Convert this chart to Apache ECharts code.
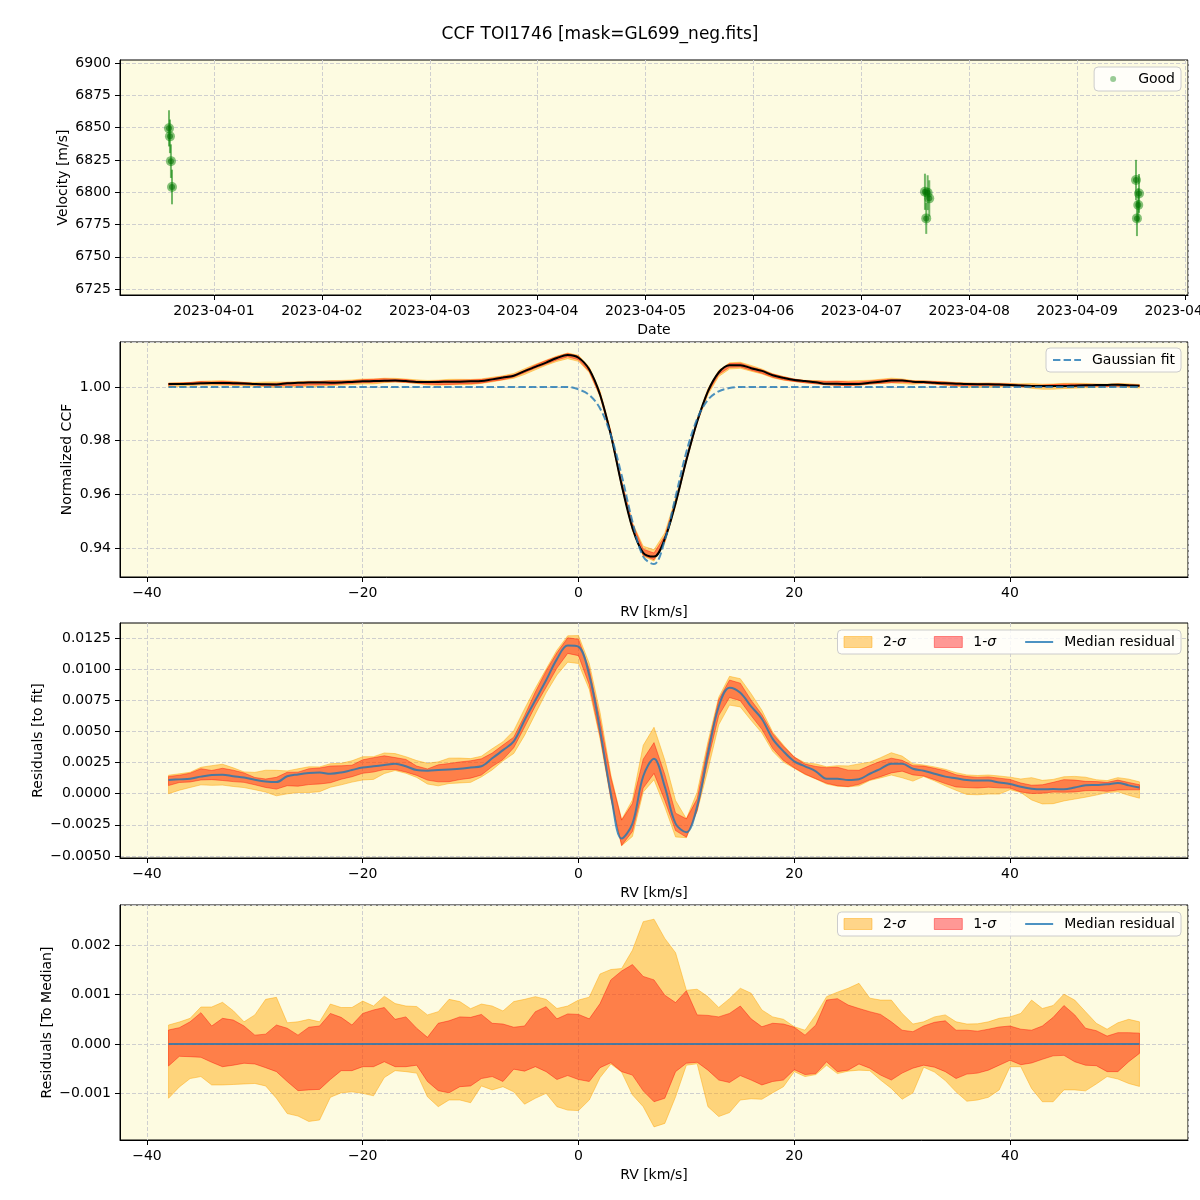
<!DOCTYPE html>
<html>
<head>
<meta charset="utf-8">
<title>CCF TOI1746</title>
<script src="https://cdn.jsdelivr.net/npm/echarts@6.0.0/dist/echarts.min.js"></script>
<style>
  html, body { margin: 0; padding: 0; background: #fff; }
  #chart { width: 1200px; height: 1200px; }
</style>
</head>
<body>
<div id="chart"></div>
<script>
// ---- top panel: RV epochs (days since 2023-04-01 00:00 UTC), velocity [m/s], error [m/s]
const obsDay = [-0.417, -0.408, -0.399, -0.389, 6.589, 6.614, 6.629, 6.601, 8.545, 8.573, 8.566, 8.554]
const obsVel = [6849.4, 6843.2, 6824.0, 6804.0, 6800.3, 6799.6, 6795.2, 6779.7, 6809.4, 6799.0, 6790.0, 6779.7]
const obsErr = [14, 13, 13, 13.4, 14, 13.5, 14, 12, 15.6, 15, 13, 13.7]
const velTicks = [6725, 6750, 6775, 6800, 6825, 6850, 6875, 6900]

// ---- RV grid [km/s]
const rv = [
  -38, -37, -36, -35, -34, -33, -32, -31, -30, -29,
  -28, -27, -26, -25, -24, -23, -22, -21, -20, -19,
  -18, -17, -16, -15, -14, -13, -12, -11, -10, -9,
  -8, -7, -6, -5, -4, -3, -2, -1, 0, 1,
  2, 3, 4, 5, 6, 7, 8, 9, 10, 11,
  12, 13, 14, 15, 16, 17, 18, 19, 20, 21,
  22, 23, 24, 25, 26, 27, 28, 29, 30, 31,
  32, 33, 34, 35, 36, 37, 38, 39, 40, 41,
  42, 43, 44, 45, 46, 47, 48, 49, 50, 51,
  52
]

// gaussian fit of the CCF
const gaussFit = [
  1, 1, 1, 1, 1, 1, 1, 1, 1, 1,
  1, 1, 1, 1, 1, 1, 1, 1, 1, 1,
  1, 1, 1, 1, 1, 1, 1, 1, 1, 1,
  1, 1, 1, 1, 1, 1, 1, 1, 0.9991, 0.9970,
  0.9920, 0.9821, 0.9671, 0.9499, 0.9368, 0.9340, 0.9429, 0.9591, 0.9758, 0.9881,
  0.9952, 0.9984, 0.9996, 1, 1, 1, 1, 1, 1, 1,
  1, 1, 1, 1, 1, 1, 1, 1, 1, 1,
  1, 1, 1, 1, 1, 1, 1, 1, 1, 1,
  1, 1, 1, 1, 1, 1, 1, 1, 1, 1,
  1
]

// median residual (CCF - fit)
const medRes = [
  0.0011, 0.00115, 0.0012, 0.00137, 0.0015, 0.00152, 0.0014, 0.0013, 0.00112, 0.00098,
  0.00093, 0.0014, 0.00155, 0.00166, 0.0017, 0.0016, 0.0017, 0.0019, 0.0021, 0.0022,
  0.0023, 0.0024, 0.0022, 0.0019, 0.00185, 0.0019, 0.00195, 0.0020, 0.0021, 0.0022,
  0.00284, 0.0035, 0.0042, 0.0059, 0.0075, 0.0091, 0.0108, 0.0119, 0.0118, 0.0095,
  0.0051, 0.0000, -0.0036, -0.0024, 0.0014, 0.0028, 0.00056, -0.0024, -0.0031, -0.0010,
  0.0032, 0.0070, 0.0085, 0.0081, 0.0070, 0.0060, 0.0044, 0.0034, 0.0026, 0.0022,
  0.0018, 0.0012, 0.0012, 0.0011, 0.00116, 0.0016, 0.0020, 0.0024, 0.0024, 0.0020,
  0.00185, 0.0016, 0.00137, 0.00124, 0.0011, 0.00105, 0.00105, 0.0009, 0.00078, 0.00056,
  0.0004, 0.00035, 0.00037, 0.00035, 0.0005, 0.00067, 0.0007, 0.00075, 0.00086, 0.00067,
  0.0005
]

// spread of the individual CCFs around the median, in units of 1e-3
const p2hi = [
  0.385, 0.446, 0.52, 0.75, 0.75, 0.845, 0.675, 0.45, 0.59, 0.905,
  0.946, 0.43, 0.45, 0.50, 0.45, 0.81, 0.74, 0.74, 0.87, 0.77,
  0.97, 0.82, 0.77, 0.76, 0.59, 0.655, 0.905, 0.86, 0.716, 0.81,
  0.77, 0.67, 0.86, 0.905, 0.96, 0.905, 0.72, 0.77, 0.89, 0.95,
  1.42, 1.51, 1.53, 1.90, 2.48, 2.53, 2.14, 1.85, 1.09, 1.11,
  0.96, 0.74, 0.92, 1.13, 1.03, 0.69, 0.55, 0.50, 0.35, 0.28,
  0.59, 0.96, 1.05, 1.13, 1.23, 0.93, 0.89, 0.89, 0.62, 0.405,
  0.45, 0.55, 0.59, 0.45, 0.405, 0.41, 0.45, 0.52, 0.55, 0.62,
  0.89, 0.72, 0.78, 1.01, 0.89, 0.655, 0.42, 0.30, 0.43, 0.50,
  0.45
]
const p1hi = [
  0.284, 0.331, 0.45, 0.635, 0.365, 0.52, 0.486, 0.365, 0.18, 0.20,
  0.385, 0.32, 0.18, 0.34, 0.365, 0.62, 0.54, 0.385, 0.62, 0.69,
  0.74, 0.50, 0.55, 0.32, 0.135, 0.42, 0.47, 0.55, 0.54, 0.60,
  0.42, 0.405, 0.34, 0.365, 0.655, 0.757, 0.51, 0.61, 0.60, 0.51,
  0.82, 1.30, 1.48, 1.61, 1.37, 1.30, 0.99, 0.84, 1.08, 0.59,
  0.58, 0.55, 0.62, 0.77, 0.51, 0.35, 0.42, 0.405, 0.34, 0.18,
  0.385, 0.89, 0.92, 0.79, 0.72, 0.655, 0.60, 0.45, 0.28, 0.25,
  0.365, 0.44, 0.47, 0.28, 0.28, 0.26, 0.30, 0.345, 0.365, 0.30,
  0.28, 0.365, 0.54, 0.78, 0.59, 0.32, 0.27, 0.16, 0.23, 0.23,
  0.22
]
const p1lo = [
  -0.446, -0.25, -0.257, -0.27, -0.37, -0.46, -0.43, -0.39, -0.405, -0.48,
  -0.56, -0.76, -0.946, -0.93, -0.92, -0.72, -0.54, -0.54, -0.46, -0.46,
  -0.36, -0.46, -0.46, -0.43, -0.76, -0.946, -0.99, -0.865, -0.85, -0.70,
  -0.66, -0.76, -0.51, -0.55, -0.46, -0.56, -0.72, -0.64, -0.72, -0.76,
  -0.48, -0.38, -0.56, -0.63, -0.95, -1.17, -1.10, -0.56, -0.39, -0.37,
  -0.53, -0.73, -0.78, -0.64, -0.73, -0.83, -0.76, -0.73, -0.52, -0.62,
  -0.60, -0.36, -0.56, -0.53, -0.405, -0.49, -0.63, -0.73, -0.59, -0.49,
  -0.43, -0.47, -0.56, -0.70, -0.61, -0.59, -0.53, -0.43, -0.33, -0.42,
  -0.385, -0.31, -0.24, -0.23, -0.36, -0.43, -0.44, -0.56, -0.56, -0.36,
  -0.19
]
const p2lo = [
  -1.10, -0.87, -0.70, -0.66, -0.83, -0.83, -0.82, -0.81, -0.80, -0.85,
  -1.10, -1.41, -1.46, -1.57, -1.54, -1.08, -0.99, -0.97, -1.00, -1.05,
  -0.68, -0.54, -0.56, -0.59, -1.07, -1.27, -1.135, -1.135, -1.19, -0.85,
  -0.93, -0.865, -0.97, -1.22, -1.10, -1.00, -1.27, -1.34, -1.35, -1.135,
  -0.68, -0.405, -0.57, -1.03, -1.27, -1.68, -1.61, -1.07, -0.43, -0.40,
  -1.27, -1.47, -1.39, -1.135, -1.11, -1.12, -0.99, -0.865, -0.56, -0.66,
  -0.62, -0.43, -0.60, -0.55, -0.53, -0.54, -0.73, -0.90, -1.12, -0.99,
  -0.47, -0.57, -0.74, -0.97, -1.16, -1.135, -1.08, -0.93, -0.46, -0.46,
  -0.90, -1.17, -1.17, -0.93, -0.93, -0.95, -0.81, -0.66, -0.71, -0.80,
  -0.86
]
const resTicks = [-0.005, -0.0025, 0, 0.0025, 0.005, 0.0075, 0.01, 0.0125]

// ---- derived curves
const E = 1e-3
const ccf = rv.map((x, i) => gaussFit[i] + medRes[i])
const shift = (base, off) => base.map((b, i) => b + off[i] * E)
const zeros = rv.map(() => 0)

const FONT = 'DejaVu Sans'
const BG = '#fdfbe1'
const C2 = 'rgba(255,165,0,0.45)'
const C1 = 'rgba(255,0,0,0.4)'
const BLUE = 'rgba(31,119,180,0.8)'
const GREEN = 'rgba(0,128,0,0.5)'

const minus = n => v => (v < 0 ? '\u2212' : '') + Math.abs(v).toFixed(n)
const gridLine = { show: true, lineStyle: { color: '#cfcfcf', width: 1, type: [4, 2] } }
const axisLine = { show: true, onZero: false, lineStyle: { color: '#000', width: 1 } }
const axisTick = { show: true, length: 5, lineStyle: { color: '#000', width: 1 } }
const nameStyle = { fontSize: 14, color: '#000', fontFamily: FONT }

function xRV(gi) {
  return {
    gridIndex: gi, type: 'value', min: -42.5, max: 56.5, splitNumber: 5,
    name: 'RV [km/s]', nameLocation: 'middle', nameGap: 28, nameTextStyle: nameStyle, nameMoveOverlap: false,
    axisLine, axisTick,
    axisLabel: { fontSize: 14, color: '#000', margin: 9, showMinLabel: false, showMaxLabel: false, formatter: minus(0) },
    splitLine: gridLine
  }
}

function yAx(gi, opt) {
  return Object.assign({
    gridIndex: gi, type: 'value', nameLocation: 'middle', nameRotate: 90, nameTextStyle: nameStyle,
    nameMoveOverlap: false, axisLine, splitLine: gridLine
  }, opt)
}

function band(name, gi, lo, hi, fill) {
  return {
    name, type: 'custom', xAxisIndex: gi, yAxisIndex: gi, silent: true,
    data: [[rv[0], lo[0]]],
    itemStyle: { color: fill },
    renderItem: (params, api) => {
      const pts = []
      for (let i = 0; i < rv.length; i++) pts.push(api.coord([rv[i], hi[i]]))
      for (let i = rv.length - 1; i >= 0; i--) pts.push(api.coord([rv[i], lo[i]]))
      return { type: 'polygon', shape: { points: pts }, style: { fill, stroke: fill, lineWidth: 1 } }
    }
  }
}

function line(name, gi, ys, style) {
  return {
    name, type: 'line', xAxisIndex: gi, yAxisIndex: gi, symbol: 'none', silent: true, smooth: 0.35,
    data: rv.map((x, i) => [x, ys[i]]), lineStyle: style, itemStyle: { color: style.color }
  }
}

const legendBase = {
  orient: 'horizontal', right: 19, itemWidth: 28, itemHeight: 11, itemGap: 28,
  padding: [5, 6, 5, 6], backgroundColor: 'rgba(255,255,255,0.8)',
  borderColor: '#cccccc', borderWidth: 1, borderRadius: 4, selectedMode: false,
  textStyle: { fontSize: 14, color: '#000', fontFamily: FONT, padding: [0, 0, 0, 6],
    rich: { i: { fontStyle: 'italic', fontSize: 14, color: '#000', fontFamily: FONT } } },
  formatter: n => n.replace('σ', '{i|σ}')
}
// line entries: hide the marker, keep the line
const lineOnly = name => ({ name, itemStyle: { opacity: 0 } })
const sigmaLegend = [
  { name: '2-σ', icon: 'rect', itemStyle: { color: C2, borderColor: C2, borderWidth: 1 } },
  { name: '1-σ', icon: 'rect', itemStyle: { color: C1, borderColor: C1, borderWidth: 1 } },
  lineOnly('Median residual')
]

const grids = [60, 342, 623, 905].map(t => ({
  left: 120, top: t, width: 1068, height: 235, show: true,
  backgroundColor: BG, borderColor: '#000', borderWidth: 1,
  containLabel: false, outerBoundsMode: 'none'
}))

const chart = echarts.init(document.getElementById('chart'), null, { renderer: 'canvas' })
chart.setOption({
  animation: false,
  textStyle: { fontFamily: FONT },
  title: {
    text: 'CCF TOI1746 [mask=GL699_neg.fits]', left: 'center', top: 21,
    textStyle: { fontSize: 17, fontWeight: 'normal', color: '#000', fontFamily: FONT }
  },
  grid: grids,
  legend: [
    Object.assign({}, legendBase, {
      top: 67, itemHeight: 6, padding: [5, 6, 5, 16],
      data: [{ name: 'Good', icon: 'circle', itemStyle: { color: GREEN } }]
    }),
    Object.assign({}, legendBase, { top: 348, data: [lineOnly('Gaussian fit')] }),
    Object.assign({}, legendBase, { top: 630, data: sigmaLegend }),
    Object.assign({}, legendBase, { top: 912, data: sigmaLegend })
  ],
  xAxis: [
    {
      gridIndex: 0, type: 'value', min: -0.871, max: 9.027, splitNumber: 10,
      name: 'Date', nameLocation: 'middle', nameGap: 28, nameTextStyle: nameStyle, nameMoveOverlap: false,
      axisLine, axisTick,
      axisLabel: {
        fontSize: 14, color: '#000', margin: 9, showMinLabel: false, showMaxLabel: false,
        formatter: v => Number.isInteger(v) ? new Date(Date.UTC(2023, 3, 1) + v * 86400000).toISOString().slice(0, 10) : ''
      },
      splitLine: gridLine
    },
    xRV(1), xRV(2), xRV(3)
  ],
  yAxis: [
    yAx(0, {
      min: 6720.4, max: 6902.3, name: 'Velocity [m/s]', nameGap: 50,
      axisTick: Object.assign({ customValues: velTicks }, axisTick),
      axisLabel: { fontSize: 14, color: '#000', margin: 9, customValues: velTicks, formatter: v => String(v) }
    }),
    yAx(1, {
      min: 0.92919, max: 1.01677, splitNumber: 5, name: 'Normalized CCF', nameGap: 46, axisTick,
      axisLabel: { fontSize: 14, color: '#000', margin: 9, showMinLabel: false, showMaxLabel: false, formatter: minus(2) }
    }),
    yAx(2, {
      min: -0.00516, max: 0.0137, name: 'Residuals [to fit]', nameGap: 75,
      axisTick: Object.assign({ customValues: resTicks }, axisTick),
      axisLabel: { fontSize: 14, color: '#000', margin: 9, customValues: resTicks, formatter: minus(4) }
    }),
    yAx(3, {
      min: -0.001946, max: 0.002818, splitNumber: 5, name: 'Residuals [To Median]', nameGap: 66, axisTick,
      axisLabel: { fontSize: 14, color: '#000', margin: 9, showMinLabel: false, showMaxLabel: false, formatter: minus(3) }
    })
  ],
  series: [
    // panel 1: velocities
    {
      name: 'errbar', type: 'custom', xAxisIndex: 0, yAxisIndex: 0, silent: true,
      data: obsDay.map((d, i) => [d, obsVel[i], obsErr[i]]),
      encode: { x: 0, y: 1 },
      renderItem: (params, api) => {
        const x = api.value(0), v = api.value(1), e = api.value(2)
        const a = api.coord([x, v - e]), b = api.coord([x, v + e])
        return { type: 'line', shape: { x1: a[0], y1: a[1], x2: b[0], y2: b[1] }, style: { stroke: 'rgba(0,128,0,0.55)', lineWidth: 2 } }
      }
    },
    {
      name: 'obs', type: 'scatter', xAxisIndex: 0, yAxisIndex: 0, symbolSize: 10, silent: true,
      data: obsDay.map((d, i) => [d, obsVel[i]]), itemStyle: { color: 'rgba(0,128,0,0.6)' }
    },
    {
      name: 'Good', type: 'scatter', xAxisIndex: 0, yAxisIndex: 0, symbolSize: 6, silent: true,
      data: obsDay.map((d, i) => [d, obsVel[i]]), itemStyle: { color: 'rgba(0,110,0,0.7)' }
    },
    // panel 2: CCF
    band('ccf 2s', 1, shift(ccf, p2lo), shift(ccf, p2hi), C2),
    band('ccf 1s', 1, shift(ccf, p1lo), shift(ccf, p1hi), C1),
    line('CCF', 1, ccf, { color: '#000', width: 2 }),
    line('Gaussian fit', 1, gaussFit, { color: BLUE, width: 2, type: [7.4, 3.2] }),
    // panel 3: residuals to fit
    band('2-σ', 2, shift(medRes, p2lo), shift(medRes, p2hi), C2),
    band('1-σ', 2, shift(medRes, p1lo), shift(medRes, p1hi), C1),
    line('Median residual', 2, medRes, { color: BLUE, width: 2 }),
    // panel 4: residuals to median
    band('2-σ', 3, shift(zeros, p2lo), shift(zeros, p2hi), C2),
    band('1-σ', 3, shift(zeros, p1lo), shift(zeros, p1hi), C1),
    line('Median residual', 3, zeros, { color: BLUE, width: 2 })
  ]
})
</script>
</body>
</html>
